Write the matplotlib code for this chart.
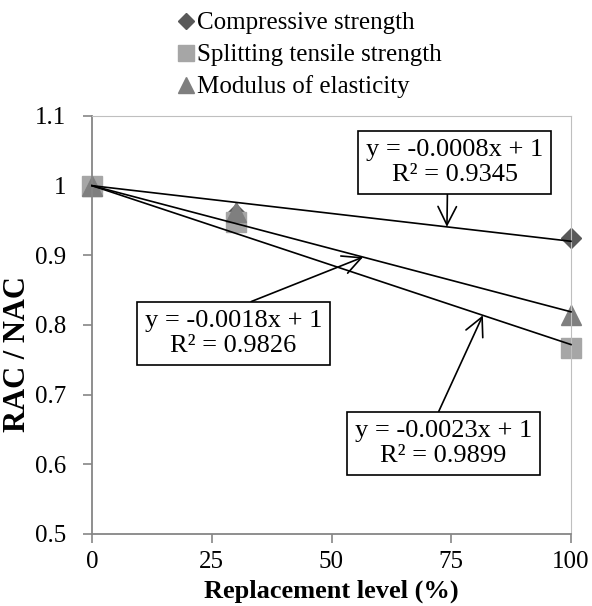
import numpy as np
import matplotlib.pyplot as plt

plt.rcParams['font.family'] = ['Liberation Serif', 'DejaVu Serif']

# data
replacement = [0, 30, 100]
compressive = [1.0, 0.960, 0.925]
splitting = [1.0, 0.948, 0.767]
modulus = [1.0, 0.962, 0.814]

series_names = ['Compressive strength', 'Splitting tensile strength', 'Modulus of elasticity']
trend_text = ['y = -0.0008x + 1\nR² = 0.9345',
              'y = -0.0023x + 1\nR² = 0.9899',
              'y = -0.0018x + 1\nR² = 0.9826']

xticks = [0, 25, 50, 75, 100]
yticks = [0.5, 0.6, 0.7, 0.8, 0.9, 1.0, 1.1]

#label box centre, arrow target x, arrow start on box (relpos)
box_pos = [(75.7, 1.033), (73.4, 0.630), (29.5, 0.788)]
arrow_x = [74.1, 81.6, 56.6]
arrow_rel = [(0.46, 0.0), (0.45, 1.0), (0.48, 1.0)]

colors = ['#595959', '#a6a6a6', '#7f7f7f']
markers = ['D', 's', '^']
msizes = [10, 14, 14]

fig = plt.figure(figsize=(5.92, 6.06), dpi=100)
ax = fig.add_axes([92/592, 72/606, 479/592, 418/606])

x = np.array(replacement, dtype=float)
allseries = [compressive, splitting, modulus]

handles = []
slopes = []
for ii in range(3):
    y = np.array(allseries[ii])
    h, = ax.plot(x, y, linestyle='none', marker=markers[ii], ms=msizes[ii],
                 color=colors[ii], mec=colors[ii], zorder=2, clip_on=False,
                 label=series_names[ii])
    handles.append(h)
    #linear fit forced through (0,1)
    slope = np.sum(x*(y-1))/np.sum(x**2)
    slopes.append(slope)

for ii in range(3):
    xx = np.array([x.min(), x.max()])
    ax.plot(xx, 1+slopes[ii]*xx, color='black', lw=1.2, zorder=3, clip_on=False)

for ii in range(3):
    tx = arrow_x[ii]
    ax.annotate(trend_text[ii], xy=(tx, 1+slopes[ii]*tx), xytext=box_pos[ii],
                ha='center', va='center', multialignment='center', fontsize=19,
                linespacing=1.15, zorder=4,
                bbox=dict(boxstyle='square,pad=0.3', fc='white', ec='black', lw=1.2),
                arrowprops=dict(arrowstyle='->,head_length=0.7,head_width=0.35',
                                color='black', lw=1.2, shrinkA=0, shrinkB=0,
                                relpos=arrow_rel[ii]))

ax.set_xlim(0, 100)
ax.set_ylim(0.5, 1.1)
ax.set_xticks(xticks)
ax.set_yticks(yticks)
ax.set_yticklabels(['{:g}'.format(v) for v in yticks])

for side in ['left', 'bottom']:
    ax.spines[side].set_color('#868686')
    ax.spines[side].set_linewidth(1.3)
for side in ['top', 'right']:
    ax.spines[side].set_color('#bfbfbf')
    ax.spines[side].set_linewidth(0.8)

ax.tick_params(axis='both', direction='out', length=6.5, width=1.2,
               color='#868686', labelsize=18)
ax.tick_params(axis='y', pad=12)
ax.tick_params(axis='x', pad=6)

ax.set_xlabel('Replacement level (%)', fontsize=19, fontweight='bold')
ax.set_ylabel('RAC / NAC', fontsize=22, fontweight='bold')
ax.xaxis.set_label_coords(0.5, -0.11)
ax.yaxis.set_label_coords(-0.125, 0.43)

fig.legend(handles=handles, loc='upper left', bbox_to_anchor=(178/592, 1-12/606),
           frameon=False, fontsize=18, handlelength=0.6, handletextpad=0.15,
           labelspacing=0.37, borderpad=0, borderaxespad=0, markerscale=0.85)

fig.savefig('out.png', dpi=100)
